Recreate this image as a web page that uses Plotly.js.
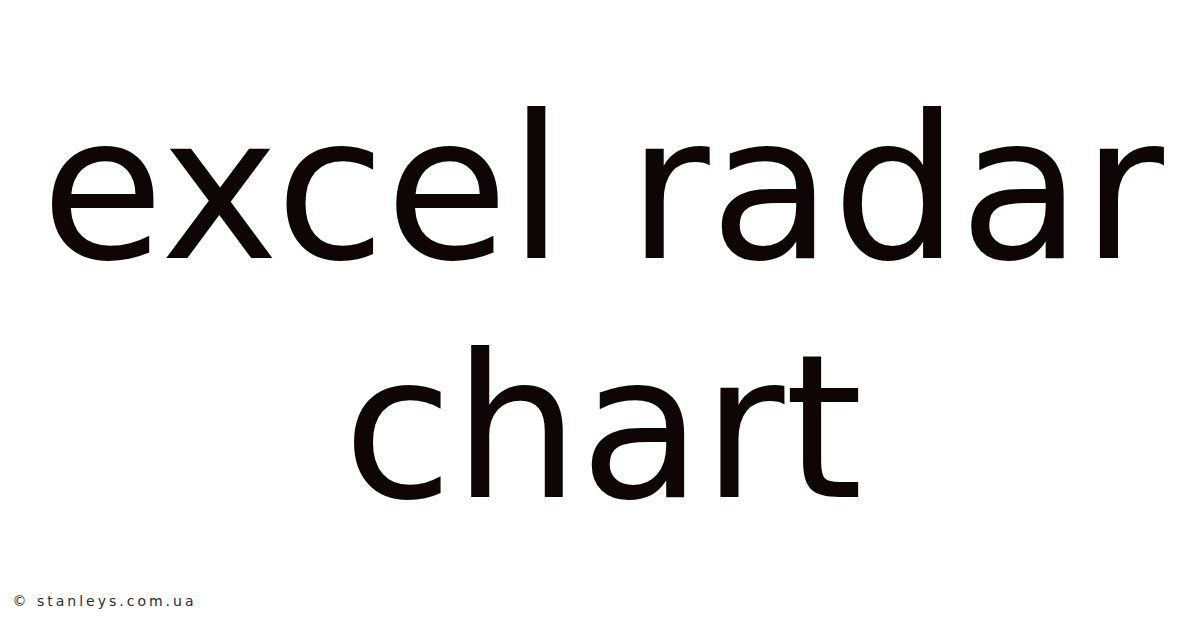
<!DOCTYPE html>
<html>
<head>
<meta charset="utf-8">
<script src="https://cdn.plot.ly/plotly-3.0.1.min.js"></script>
<style>
  html, body { margin: 0; padding: 0; background: #fff; }
  #chart { width: 1200px; height: 628px; }
  /* the credit line is drawn letter-spaced */
  #chart .annotation[data-index="2"] text { letter-spacing: 3px; }
</style>
</head>
<body>
<div id="chart"></div>
<script>
// title lines and the footer credit
const titleLines = ['excel radar', 'chart']
const titleY = [0.7, 0.319]
const creditText = '© stanleys.com.ua'

const textColor = '#0e0606'

const annotations = titleLines.map((line, i) => ({
  text: line,
  x: 0.5025,
  y: titleY[i],
  xref: 'paper',
  yref: 'paper',
  xanchor: 'center',
  yanchor: 'middle',
  showarrow: false,
  font: { family: 'DejaVu Sans', size: 200, color: textColor },
}))

// letter-spacing widens the text around its centre, so the box sits a bit right
annotations.push({
  text: creditText,
  x: 0.03,
  y: 0.043,
  xref: 'paper',
  yref: 'paper',
  xanchor: 'left',
  yanchor: 'middle',
  showarrow: false,
  font: { family: 'DejaVu Sans', size: 14, color: '#2a2a2a' },
})

const layout = {
  width: 1200,
  height: 628,
  margin: { l: 0, r: 0, t: 0, b: 0 },
  paper_bgcolor: '#fff',
  plot_bgcolor: '#fff',
  showlegend: false,
  xaxis: { visible: false, range: [0, 1], fixedrange: true },
  yaxis: { visible: false, range: [0, 1], fixedrange: true },
  annotations,
}

Plotly.newPlot('chart', [], layout, { displayModeBar: false, staticPlot: true })
</script>
</body>
</html>
